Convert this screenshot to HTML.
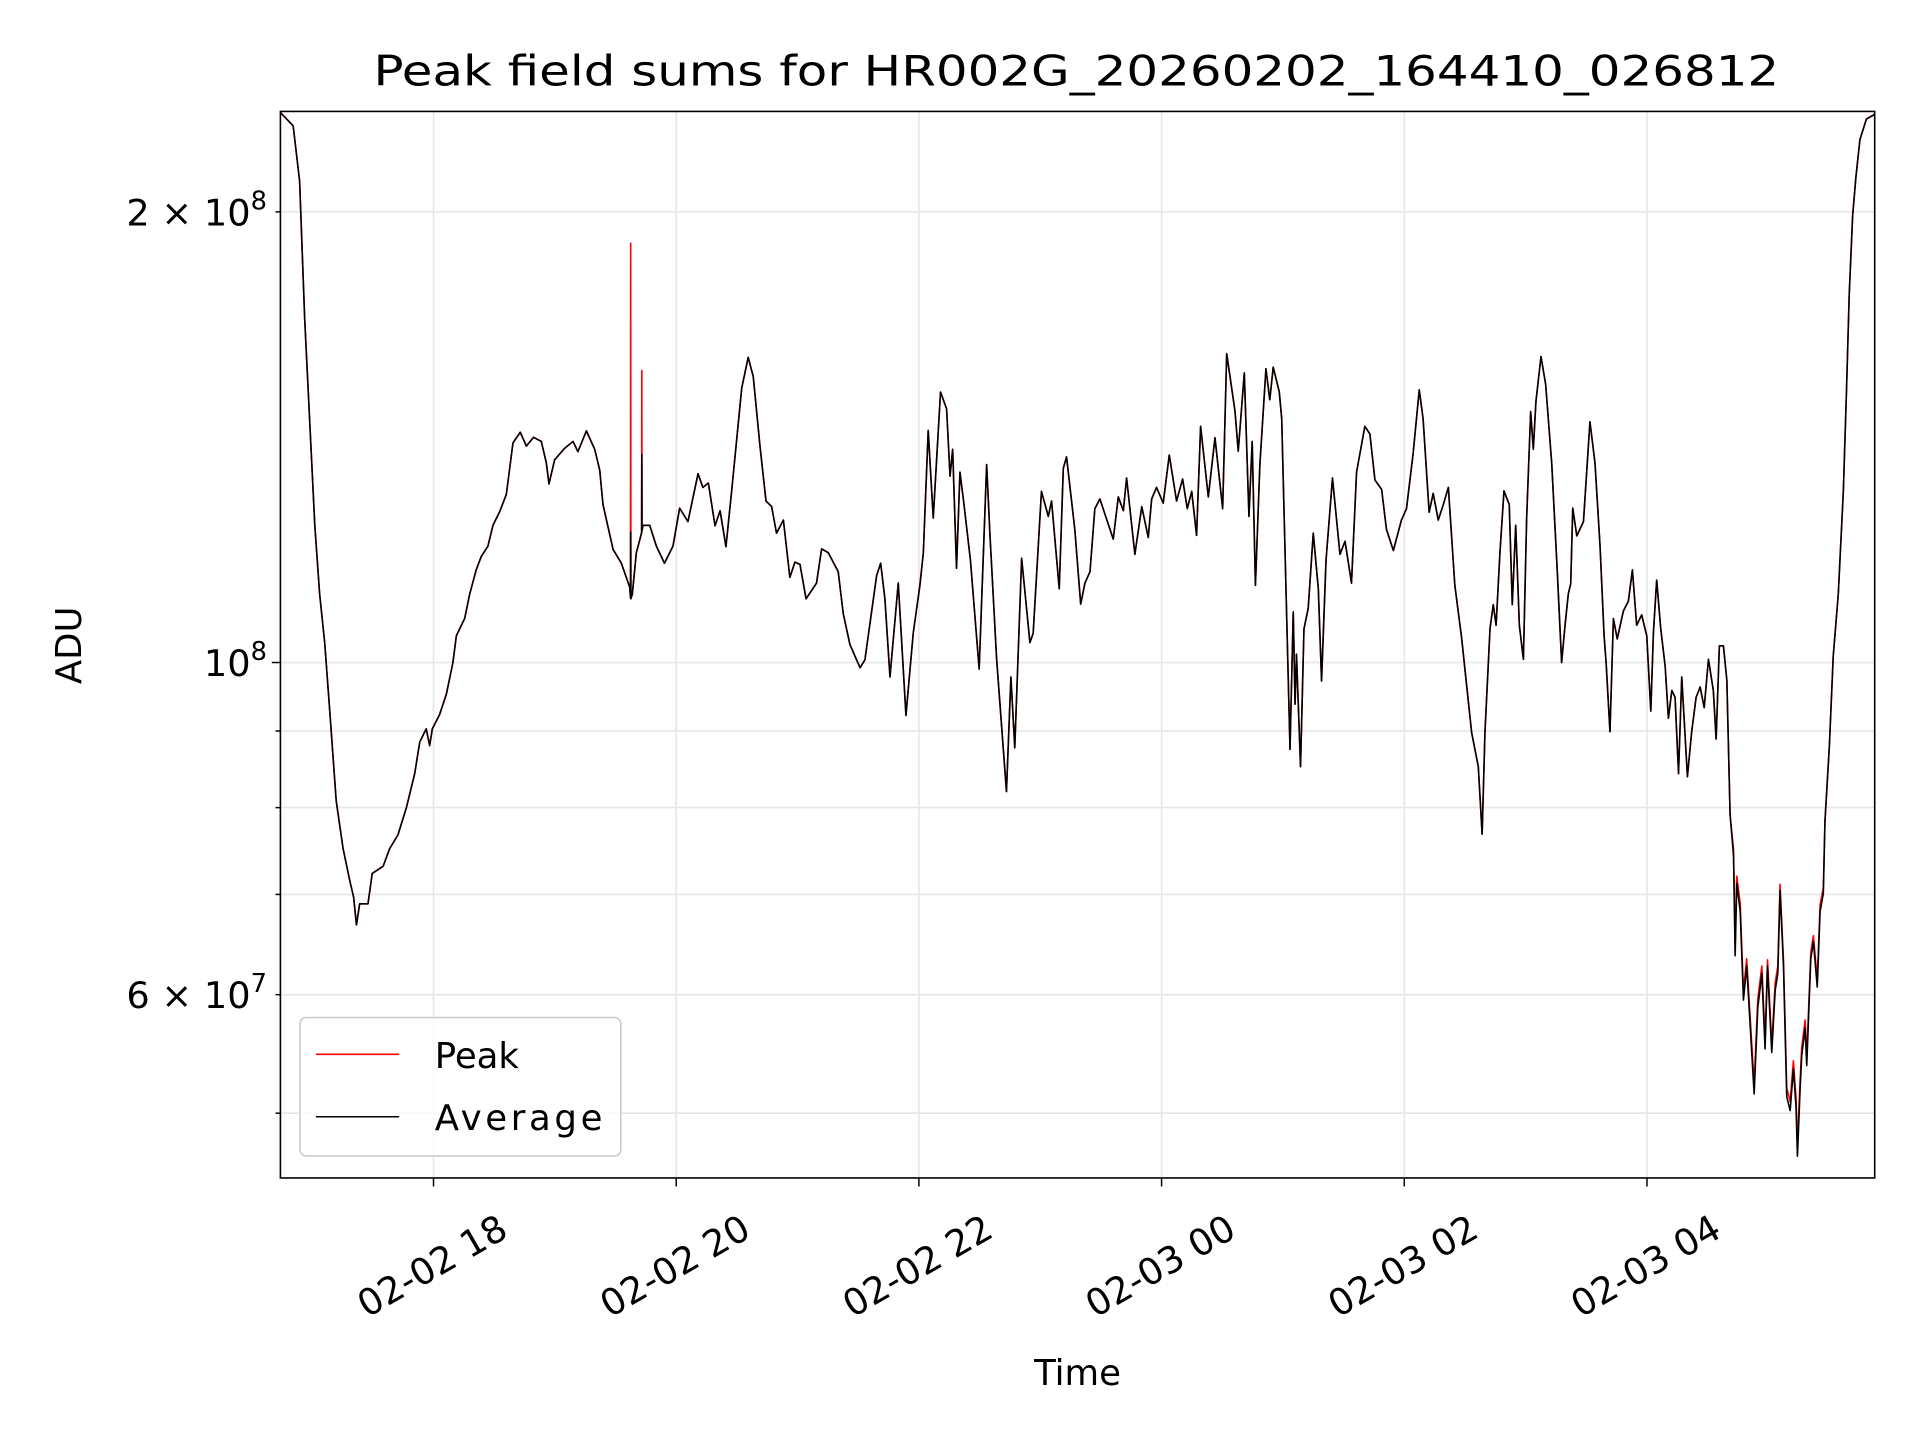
<!DOCTYPE html>
<html>
<head>
<meta charset="utf-8">
<style>
html,body{margin:0;padding:0;background:#fff;}
svg{display:block;}
text{font-family:"DejaVu Sans","Liberation Sans",sans-serif;fill:#000;}
</style>
</head>
<body>
<svg id="chart" width="1920" height="1440" viewBox="0 0 1568 1176" preserveAspectRatio="none" xmlns="http://www.w3.org/2000/svg">
  <rect x="0" y="0" width="1568" height="1176" fill="#fff"/>
  <text x="879" y="70" text-anchor="middle" font-size="34" textLength="1148" lengthAdjust="spacingAndGlyphs">Peak field sums for HR002G_20260202_164410_026812</text>
  <defs><clipPath id="plotclip"><rect x="229" y="91" width="1302" height="871"/></clipPath></defs>
  <g id="grid"></g>
  <g id="series" clip-path="url(#plotclip)"></g>
  <rect x="229" y="91" width="1302" height="871" fill="none" stroke="#000" stroke-width="1.3"/>
  <g id="axes"></g>
  <text x="880" y="1131" text-anchor="middle" font-size="29">Time</text>
  <text transform="translate(66,527) rotate(-90)" text-anchor="middle" font-size="29">ADU</text>
  <g>
    <rect x="245" y="831" width="262" height="113" rx="5" fill="#fff" fill-opacity="0.8" stroke="#ccc" stroke-width="1.3"/>
    <line x1="258" y1="861" x2="326" y2="861" stroke="#ff0000" stroke-width="1.3"/>
    <text x="355" y="872" font-size="29">Peak</text>
    <line x1="258" y1="912" x2="326" y2="912" stroke="#000" stroke-width="1.3"/>
    <text x="355" y="923" font-size="29" textLength="137">Average</text>
  </g>
</svg>
<script>
// time in minutes since 02-02 16:00 ; values in millions of ADU
const timesA = [44.3,50.6,53.8,56.3,58.8,61.3,63.7,66.2,68.7,71.9,75.3,78.5,80.5,81.9,83.5,87.6,89.7,95.1,98.3,102.4,106.6,110.7,113.2,116.4,118.1,119.4,123.0,126.4,129.6,131.3,135.4,137.9,141.1,143.6,146.9,149.4,152.7,156.0,159.3,162.9,165.9,169.5,173.3,175.8,177.1,179.9,184.8,189.0,191.4,195.6,199.7,202.2,203.8,208.8,212.9,217.0];
const avgA = [233,228.3,209.7,169.7,144.8,123.5,111.1,103.1,92.8,80.8,75.1,71.6,69.7,66.8,69.0,69.0,72.3,73.1,75.1,76.7,80.0,84.3,88.5,90.3,88.0,90.3,92.3,95.3,100.0,104.2,107.0,111.1,115.3,117.7,119.6,123.5,126.1,129.5,140.2,142.5,139.5,141.4,140.5,135.9,131.6,136.6,139.0,140.5,138.3,142.8,138.8,134.4,127.5,119.0,116.5,112.3];
const timesS = [217.4,217.5,217.6,218.3,220.3,222.9,223.0,223.1,223.6,226.9,230.2,234.2,238.4,241.7,245.8,250.8,253.2];
const avgS = [110.5,122.2,110.3,111.1,118.4,122.1,137.7,122.5,123.5,123.5,119.6,116.5,119.6,126.8,124.2,133.7,130.9];
const peakS = [110.5,190.6,110.3,111.1,118.4,122.1,156.7,122.5,123.5,123.5,119.6,116.5,119.6,126.8,124.2,133.7,130.9];
const timesB = [255.9,259.2,261.7,264.6,267.4,272.4,275.6,278.1,281.4,284.4,287.2,289.6,293.0,296.2,298.7,301.2,304.2,309.4,311.9,315.2,320.1,322.6,325.9,330.9,333.3,339.1,341.1,343.2,345.7,349.8,353.6,357.2,360.5,362.2,364.6,367.1,370.7,373.7,375.4,376.7,378.6,380.3,382.3,385.5,389.8,393.5,395.1,398.4,403.3,405.5,407.4,410.8,414.9,416.5,420.6,424.0,425.6,429.4,431.4,433.0,437.1,440.0,442.1,444.6,447.0,449.5];
const avgB = [131.8,123.4,126.3,119.5,130.1,152.5,159.9,155.2,139.6,128.2,127.1,122.0,124.5,114.0,116.7,116.3,110.3,113.0,119.1,118.4,115.0,107.8,102.8,99.2,100.4,114.3,116.5,110.3,97.8,113.0,92.2,104.6,112.6,118.4,142.9,124.9,151.6,147.7,133.2,138.8,115.6,134.0,127.5,117.0,99.0,135.6,122.0,100.7,82.0,97.8,87.7,117.4,103.1,104.6,130.1,125.2,128.2,112.0,134.8,137.2,122.7,109.4,113.0,115.0,126.7,128.6];
const timesC = [456.1,458.6,461.1,462.7,466.8,470.2,473.4,475.1,477.5,480.8,483.8,487.4,490.4,492.7,494.9,497.3,499.3,503.1,506.4,510.2,512.2,516.3,517.9,520.9,523.2,524.8,526.4,528.6,531.6,533.5,535.2,538.2,539.4,543.5,545.1,546.0,546.7,548.7,550.4,552.5,555.0,557.5,559.1,561.3,564.5,568.2,570.7,573.9,576.4,580.5,583.0,585.5,588.8,591.2,594.6,598.6,601.1,604.4,607.4,609.3,612.3,614.3,616.8,619.3,621.8,625.0,628.3,633.3,636.6,638.5];
const avgC = [120.9,129.0,126.3,132.8,118.1,127.1,121.2,128.6,130.9,127.8,137.6,128.2,132.6,126.7,130.1,121.6,143.8,129.0,141.3,126.7,160.8,147.2,138.4,156.1,125.2,140.5,112.6,135.6,157.1,149.8,157.5,151.6,145.5,87.5,108.1,93.8,101.3,85.2,105.3,108.7,122.0,112.0,97.2,117.0,132.8,118.1,120.5,113.0,134.0,143.8,142.1,132.4,130.5,122.7,118.8,124.5,126.7,138.0,152.1,145.5,126.0,129.7,124.5,127.5,130.9,112.6,104.0,89.8,85.2,76.8];
const timesD = [639.9,642.4,644.0,645.4,647.3,649.3,651.9,653.4,655.1,656.9,658.9,660.5,662.5,663.8,665.1,667.6,669.9,672.9,675.7,677.8,679.5,681.1,682.3,683.3,685.3,688.6,691.8,694.3,696.8,698.8,699.8,701.7,703.4,705.3,708.3,710.8,712.8,714.9,717.4,719.9,721.9,723.2,724.8,726.8,729.0,730.6,732.3,733.9,735.6,737.2,740.0,742.1,744.3,746.3,748.3,750.4,752.8,754.2,755.8,757.8,759.5,761.1,762.8,763.6,764.4,766.1,767.7,769.3,771.0,773.0,774.8,776.8,778.4,779.6,781.7,783.4,784.7,785.8,787.5,789.1,790.8,792.4,793.7,794.4,795.7,796.5,798.2,799.0,801.0,802.3,804.2,805.6,807.2,808.0,810.2,812.1,814.6,817.1,818.7,820.0,821.7,823.3,825.3,828.5,832.7];
const avgD = [89.9,105.4,109.3,105.9,118.4,130.2,127.5,109.3,123.5,105.9,100.5,124.8,147.1,138.8,149.4,160.1,153.4,135.9,114.7,100.0,105.9,111.1,112.9,126.8,121.5,124.2,144.8,135.9,119.6,104.2,100.0,89.9,107.0,103.7,108.2,109.9,115.3,105.9,107.6,104.2,92.8,104.8,113.5,105.4,99.4,91.8,95.8,94.8,84.3,97.8,83.9,89.9,94.8,96.3,93.3,100.5,95.8,88.9,102.6,102.6,97.3,79.1,74.3,63.7,71.2,68.2,59.5,62.7,57.3,51.5,58.8,62.0,55.2,62.7,54.9,60.4,62.0,70.4,62.7,51.3,50.2,53.5,50.5,46.8,51.8,54.6,57.0,53.8,63.4,65.1,60.7,68.2,70.1,78.3,88.0,101.0,111.1,130.2,152.6,176.1,198.9,210.9,223.5,230.7,232.4];
const peakD = [89.9,105.4,109.3,105.9,118.4,130.2,127.5,109.3,123.5,105.9,100.5,124.8,147.1,138.8,149.4,160.1,153.4,135.9,114.7,100.0,105.9,111.1,112.9,126.8,121.5,124.2,144.8,135.9,119.6,104.2,100.0,89.9,107.0,103.7,108.2,109.9,115.3,105.9,107.6,104.2,92.8,104.8,113.5,105.4,99.4,91.8,95.8,94.8,84.3,97.8,83.9,89.9,94.8,96.3,93.3,100.5,95.8,88.9,102.6,102.6,97.3,79.1,75.0,64.6,72.0,69.0,60.3,63.4,58.0,52.3,59.6,62.7,56.0,63.3,55.6,61.1,62.7,71.1,63.3,52.0,50.9,54.2,51.2,47.6,52.5,55.3,57.7,54.5,64.0,65.7,61.4,68.9,70.7,78.3,88.0,101.0,111.1,130.2,152.6,176.1,198.9,210.9,223.5,230.7,232.4];

const xTickMinutes = [120,240,360,480,600,720];
const xTickLabels = ["02-02 18","02-02 20","02-02 22","02-03 00","02-03 02","02-03 04"];
const yMinorValues = [50,60,70,80,90,200];
const yLabelValues = [200,100,60];
const yLabelMantissa = ["2","","6"];
const yLabelExp = ["8","8","7"];

const times = timesA.concat(timesS, timesB, timesC, timesD);
const avgValues = avgA.concat(avgS, avgB, avgC, avgD);
const peakValues = avgA.concat(peakS, avgB, avgC, peakD);

const PL=229, PR=1531, PT=91, PB=962;
const T0=44.3, T1=832.6;
const LOGV0=Math.log10(45.26), LOGV1=Math.log10(233.4);
function xs(m){return PL+(m-T0)/(T1-T0)*(PR-PL);}
function ys(v){return PB-(Math.log10(v)-LOGV0)/(LOGV1-LOGV0)*(PB-PT);}

const NS="http://www.w3.org/2000/svg";
const grid=document.getElementById('grid');
const axes=document.getElementById('axes');
const series=document.getElementById('series');
function mk(tag,attrs,parent){const e=document.createElementNS(NS,tag);for(const k in attrs)e.setAttribute(k,attrs[k]);parent.appendChild(e);return e;}

const allY=[100].concat(yMinorValues);
allY.forEach(function(v){
  const y=ys(v);
  const g=mk('line',{x1:PL,x2:PR,y1:y,y2:y,stroke:'#e6e6e6','stroke-width':1.3},grid);
  
  
  const t=mk('line',{x1:PL-(v===100?7:4),x2:PL,y1:y,y2:y,stroke:'#000','stroke-width':1.2},axes);
  
  
});
xTickMinutes.forEach(function(m,i){
  const x=xs(m);
  const g=mk('line',{x1:x,x2:x,y1:PT,y2:PB,stroke:'#e6e6e6','stroke-width':1.3},grid);
  
  
  const t=mk('line',{x1:x,x2:x,y1:PB,y2:PB+7,stroke:'#000','stroke-width':1.2},axes);
  
  
  const cx=x-1, cy=1034;
  const lb=mk('text',{x:cx,y:cy,'text-anchor':'middle','dominant-baseline':'central','font-size':30,transform:'rotate(-30 '+cx+' '+cy+')'},axes);
  lb.textContent=xTickLabels[i];
  
  
});
yLabelValues.forEach(function(v,i){
  const y=ys(v);
  const t=mk('text',{x:218,y:y+11,'text-anchor':'end','font-size':30},axes);
  const a=document.createElementNS(NS,'tspan');
  a.textContent=yLabelMantissa[i]?(yLabelMantissa[i]+' \u00d7 10'):'10';
  t.appendChild(a);
  const s=document.createElementNS(NS,'tspan');s.setAttribute('dy','-13');s.setAttribute('font-size','21');s.textContent=yLabelExp[i];t.appendChild(s);
  
  
});

function pathFor(vals){
  let d='';
  const n=Math.min(times.length,vals.length);
  for(let i=0;i<n;i++){d+=(i?'L':'M')+xs(times[i]).toFixed(2)+','+ys(vals[i]).toFixed(2);}
  return d;
}
const pk=mk('path',{d:pathFor(peakValues),fill:'none',stroke:'#ff0000','stroke-width':1.3,'stroke-linejoin':'round'},series);


const av=mk('path',{d:pathFor(avgValues),fill:'none',stroke:'#000','stroke-width':1.3,'stroke-linejoin':'round'},series);


</script>
</body>
</html>
